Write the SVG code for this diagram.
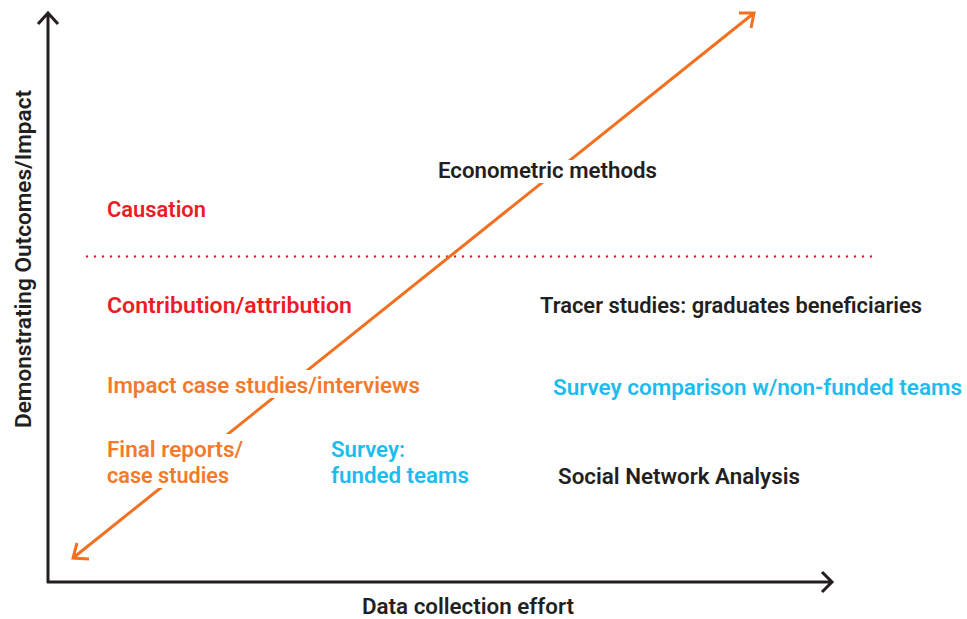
<svg xmlns="http://www.w3.org/2000/svg" width="967" height="619" viewBox="0 0 967 619">
<style>
  text { font-family: Roboto, "Liberation Sans", sans-serif; font-weight: 600; font-size: 22px; }
  .red { fill: #ED1C24; }
  .orange { fill: #F47A2B; }
  .cyan { fill: #1CBCEF; }
  .dark { fill: #231F20; }
  .axis { stroke: #231F20; stroke-width: 3; fill: none; }
  .trend { stroke: #F37021; stroke-width: 3; fill: none; }
  .knock { fill: #FFFFFF; }
</style>
<rect width="967" height="619" fill="#FFFFFF"/>
<g id="connectors">
  <path class="axis" d="M48,583 L48,14 M38,24 L48,13 L58,24"/>
  <path class="axis" d="M47,582 L832,582 M822,572 L832,582 L822,592"/>
  <line x1="87" y1="256.5" x2="872" y2="256.5" stroke="#ED1C24" stroke-width="2.4" stroke-linecap="round" stroke-dasharray="0 8"/>
  <path class="trend" d="M73,558 L754,13 M739,13 L754,13 L751,28 M77,543 L73,558 L89,559"/>
</g>
<g id="node-econometric">
  <rect class="knock" x="436" y="160" width="224" height="23"/>
  <text class="dark" x="438" y="178" textLength="219" lengthAdjust="spacingAndGlyphs">Econometric methods</text>
</g>
<g id="node-causation">
  <text class="red" x="107" y="217" textLength="99" lengthAdjust="spacingAndGlyphs">Causation</text>
</g>
<g id="node-contribution">
  <text class="red" x="107" y="313" textLength="245" lengthAdjust="spacingAndGlyphs">Contribution/attribution</text>
</g>
<g id="node-tracer">
  <text class="dark" x="540" y="313" textLength="382" lengthAdjust="spacingAndGlyphs">Tracer studies: graduates beneficiaries</text>
</g>
<g id="node-impact">
  <rect class="knock" x="105" y="370" width="318" height="28"/>
  <text class="orange" x="107" y="393" textLength="313" lengthAdjust="spacingAndGlyphs">Impact case studies/interviews</text>
</g>
<g id="node-survey-comparison">
  <text class="cyan" x="553" y="395" textLength="409" lengthAdjust="spacingAndGlyphs">Survey comparison w/non-funded teams</text>
</g>
<g id="node-final-reports">
  <rect class="knock" x="105" y="434" width="141" height="54"/>
  <text class="orange" x="107" y="457" textLength="136" lengthAdjust="spacingAndGlyphs">Final reports/</text>
  <text class="orange" x="107" y="483" textLength="122" lengthAdjust="spacingAndGlyphs">case studies</text>
</g>
<g id="node-survey-funded">
  <text class="cyan" x="331" y="457" textLength="74" lengthAdjust="spacingAndGlyphs">Survey:</text>
  <text class="cyan" x="331" y="483" textLength="138" lengthAdjust="spacingAndGlyphs">funded teams</text>
</g>
<g id="node-sna">
  <text class="dark" x="558" y="484" textLength="242" lengthAdjust="spacingAndGlyphs">Social Network Analysis</text>
</g>
<g id="axis-labels">
  <text class="dark" x="362" y="614" textLength="212" lengthAdjust="spacingAndGlyphs">Data collection effort</text>
  <text class="dark" transform="translate(31,259) rotate(-90)" x="0" y="0" text-anchor="middle" textLength="338" lengthAdjust="spacingAndGlyphs">Demonstrating Outcomes/Impact</text>
</g>
</svg>
